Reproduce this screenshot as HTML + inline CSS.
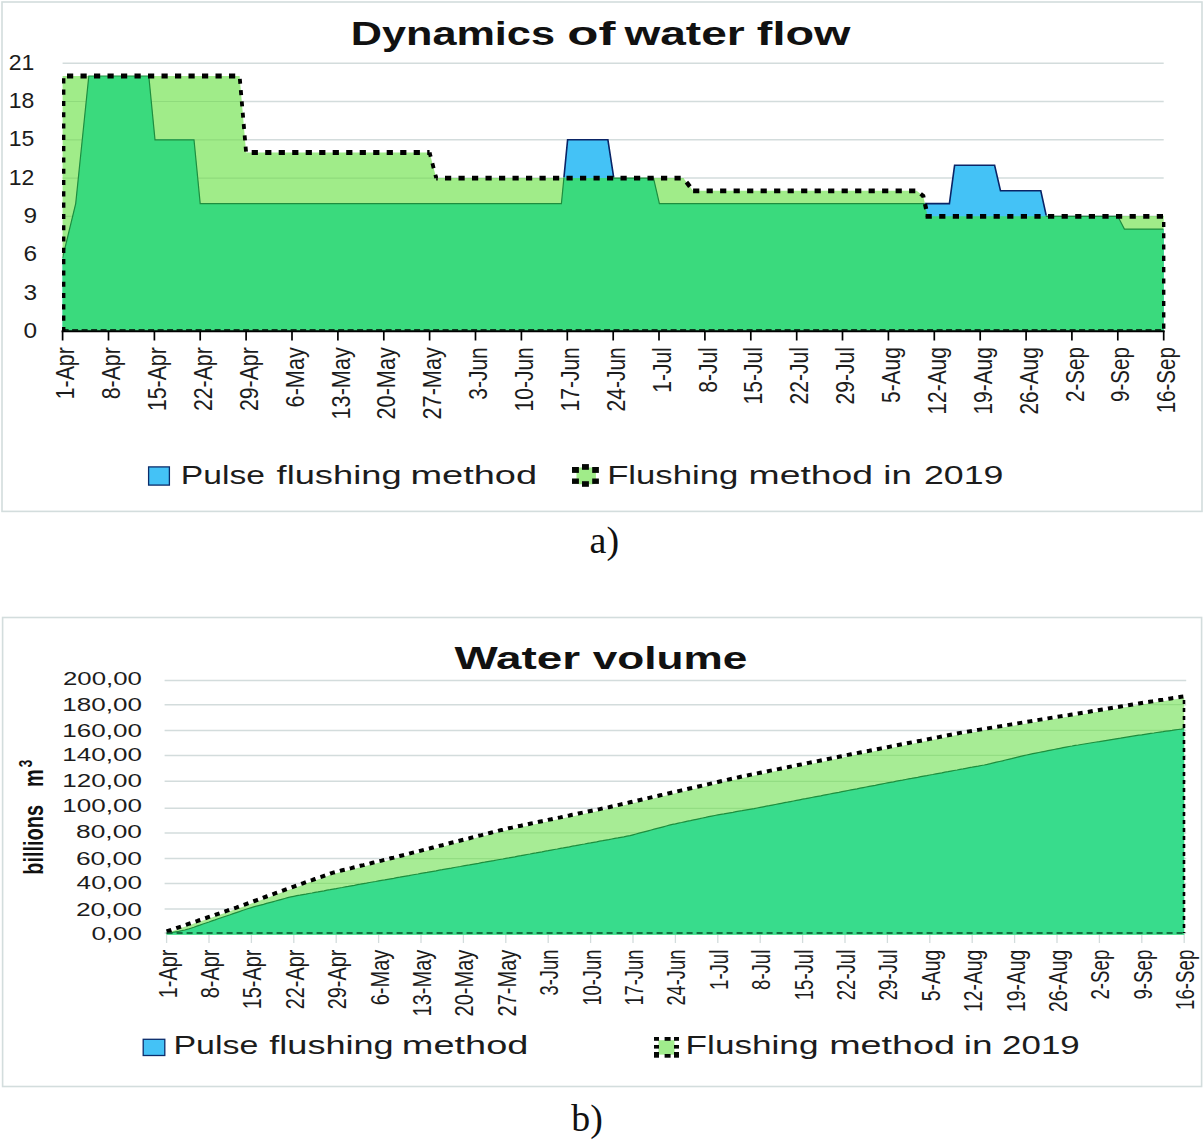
<!DOCTYPE html>
<html><head><meta charset="utf-8"><title>Water flow charts</title>
<style>html,body{margin:0;padding:0;background:#fff;}body{width:1203px;height:1142px;overflow:hidden;font-family:"Liberation Sans", sans-serif;}</style>
</head><body>
<svg width="1203" height="1142" viewBox="0 0 1203 1142" style="display:block">
<defs><clipPath id="clipLGA"><polygon points="62.6,76.0 239.6,76.0 246.1,152.5 429.6,152.5 436.2,178.1 683.3,178.1 693.1,190.8 916.6,190.8 923.2,195.9 927.8,216.3 1163.7,216.3 1163.7,331.2 62.6,331.2"/></clipPath><clipPath id="clipFlA"><polygon points="62.1,75.0 239.1,75.0 245.6,151.5 429.1,151.5 435.7,177.1 682.8,177.1 692.6,189.8 916.1,189.8 922.7,194.9 927.3,215.3 1163.2,215.3 1163.7,331.2 62.6,331.2"/></clipPath><clipPath id="clipAboveA"><polygon points="62.6,75.0 239.6,75.0 246.1,151.5 429.6,151.5 436.2,177.1 683.3,177.1 693.1,189.8 916.6,189.8 923.2,194.9 927.8,215.3 1163.7,215.3 1163.7,0.0 62.6,0.0"/></clipPath><clipPath id="clipLGB"><polygon points="166.6,933.0 169.6,932.0 172.7,930.9 175.7,929.9 178.7,928.8 181.7,927.8 184.8,926.8 187.8,925.7 190.8,924.7 193.9,923.6 196.9,922.6 199.9,921.5 202.9,920.5 206.0,919.5 209.0,918.4 212.0,917.4 215.1,916.3 218.1,915.3 221.1,914.3 224.1,913.2 227.2,912.2 230.2,911.1 233.2,910.1 236.3,909.1 239.3,908.0 242.3,906.9 245.3,905.8 248.4,904.7 251.4,903.6 254.4,902.5 257.5,901.4 260.5,900.3 263.5,899.1 266.5,898.0 269.6,896.9 272.6,895.8 275.6,894.7 278.7,893.6 281.7,892.5 284.7,891.4 287.7,890.3 290.8,889.2 293.8,888.1 296.8,887.0 299.9,885.9 302.9,884.8 305.9,883.7 308.9,882.6 312.0,881.6 315.0,880.5 318.0,879.4 321.1,878.4 324.1,877.3 327.1,876.2 330.1,875.1 333.2,874.2 336.2,873.3 339.2,872.6 342.3,871.8 345.3,871.1 348.3,870.3 351.3,869.6 354.4,868.8 357.4,868.1 360.4,867.3 363.5,866.6 366.5,865.8 369.5,865.1 372.5,864.3 375.6,863.6 378.6,862.8 381.6,862.1 384.7,861.3 387.7,860.6 390.7,859.8 393.7,859.1 396.8,858.3 399.8,857.5 402.8,856.8 405.9,856.0 408.9,855.2 411.9,854.4 414.9,853.7 418.0,852.9 421.0,852.1 424.0,851.3 427.1,850.5 430.1,849.8 433.1,849.0 436.1,848.2 439.2,847.4 442.2,846.7 445.2,845.9 448.3,845.1 451.3,844.3 454.3,843.6 457.3,842.8 460.4,842.0 463.4,841.2 466.4,840.4 469.5,839.7 472.5,838.9 475.5,838.1 478.5,837.3 481.6,836.6 484.6,835.8 487.6,835.0 490.7,834.2 493.7,833.4 496.7,832.7 499.7,831.9 502.8,831.2 505.8,830.4 508.8,829.7 511.9,829.1 514.9,828.4 517.9,827.8 520.9,827.2 524.0,826.5 527.0,825.9 530.0,825.2 533.1,824.6 536.1,824.0 539.1,823.3 542.1,822.7 545.2,822.1 548.2,821.4 551.2,820.8 554.3,820.1 557.3,819.5 560.3,818.9 563.3,818.2 566.4,817.6 569.4,817.0 572.4,816.3 575.5,815.7 578.5,815.0 581.5,814.4 584.5,813.8 587.6,813.1 590.6,812.5 593.6,811.9 596.7,811.2 599.7,810.6 602.7,809.9 605.7,809.3 608.8,808.7 611.8,808.0 614.8,807.3 617.9,806.6 620.9,805.9 623.9,805.2 626.9,804.5 630.0,803.8 633.0,803.1 636.0,802.4 639.1,801.7 642.1,801.0 645.1,800.3 648.1,799.6 651.2,798.9 654.2,798.2 657.2,797.5 660.3,796.8 663.3,796.1 666.3,795.4 669.3,794.7 672.4,794.0 675.4,793.3 678.4,792.6 681.5,791.9 684.5,791.2 687.5,790.5 690.5,789.8 693.6,789.1 696.6,788.4 699.6,787.7 702.7,787.0 705.7,786.3 708.7,785.6 711.7,784.9 714.8,784.2 717.8,783.5 720.8,782.8 723.9,782.1 726.9,781.4 729.9,780.7 732.9,780.1 736.0,779.4 739.0,778.7 742.0,778.0 745.1,777.4 748.1,776.8 751.1,776.1 754.1,775.5 757.2,774.9 760.2,774.3 763.2,773.7 766.3,773.1 769.3,772.4 772.3,771.8 775.3,771.2 778.4,770.6 781.4,770.0 784.4,769.4 787.5,768.8 790.5,768.1 793.5,767.5 796.5,766.9 799.6,766.3 802.6,765.7 805.6,765.1 808.7,764.4 811.7,763.8 814.7,763.2 817.7,762.6 820.8,762.0 823.8,761.4 826.8,760.8 829.9,760.1 832.9,759.5 835.9,758.9 838.9,758.3 842.0,757.7 845.0,757.1 848.0,756.4 851.1,755.8 854.1,755.2 857.1,754.6 860.1,754.0 863.2,753.4 866.2,752.8 869.2,752.3 872.3,751.7 875.3,751.1 878.3,750.5 881.3,749.9 884.4,749.3 887.4,748.7 890.4,748.1 893.5,747.5 896.5,746.9 899.5,746.3 902.5,745.7 905.6,745.1 908.6,744.5 911.6,743.9 914.7,743.3 917.7,742.8 920.7,742.2 923.7,741.6 926.8,741.0 929.8,740.4 932.8,739.8 935.9,739.2 938.9,738.6 941.9,738.0 944.9,737.4 948.0,736.8 951.0,736.2 954.0,735.6 957.1,735.0 960.1,734.4 963.1,733.9 966.1,733.4 969.2,732.9 972.2,732.4 975.2,731.9 978.3,731.4 981.3,730.9 984.3,730.4 987.3,729.9 990.4,729.4 993.4,728.9 996.4,728.4 999.5,727.9 1002.5,727.4 1005.5,726.9 1008.5,726.4 1011.6,725.9 1014.6,725.4 1017.6,724.9 1020.7,724.4 1023.7,723.9 1026.7,723.4 1029.7,722.9 1032.8,722.4 1035.8,721.9 1038.8,721.4 1041.9,720.9 1044.9,720.4 1047.9,719.9 1050.9,719.4 1054.0,718.9 1057.0,718.4 1060.0,717.9 1063.1,717.4 1066.1,716.9 1069.1,716.5 1072.1,716.0 1075.2,715.5 1078.2,715.0 1081.2,714.5 1084.3,714.0 1087.3,713.5 1090.3,713.0 1093.3,712.5 1096.4,712.0 1099.4,711.5 1102.4,711.0 1105.5,710.5 1108.5,710.0 1111.5,709.5 1114.5,709.0 1117.6,708.5 1120.6,708.0 1123.6,707.5 1126.7,707.0 1129.7,706.5 1132.7,706.0 1135.7,705.5 1138.8,705.0 1141.8,704.5 1144.8,704.0 1147.9,703.5 1150.9,703.1 1153.9,702.6 1156.9,702.1 1160.0,701.6 1163.0,701.2 1166.0,700.7 1169.1,700.2 1172.1,699.7 1175.1,699.3 1178.1,698.8 1181.2,698.3 1184.2,697.9 1184.2,934.8 166.6,934.8"/></clipPath></defs>
<rect x="0" y="0" width="1203" height="1142" fill="#fff"/>
<rect x="2" y="2" width="1200" height="509.4" fill="#fff" stroke="#D3DDDD" stroke-width="1.6"/>
<rect x="2.6" y="617.5" width="1199" height="469" fill="#fff" stroke="#D3DDDD" stroke-width="1.6"/>
<line x1="62.6" x2="1163.7" y1="292.9" y2="292.9" stroke="#D3DCDC" stroke-width="1.5"/>
<line x1="62.6" x2="1163.7" y1="254.6" y2="254.6" stroke="#D3DCDC" stroke-width="1.5"/>
<line x1="62.6" x2="1163.7" y1="216.3" y2="216.3" stroke="#D3DCDC" stroke-width="1.5"/>
<line x1="62.6" x2="1163.7" y1="178.1" y2="178.1" stroke="#D3DCDC" stroke-width="1.5"/>
<line x1="62.6" x2="1163.7" y1="139.8" y2="139.8" stroke="#D3DCDC" stroke-width="1.5"/>
<line x1="62.6" x2="1163.7" y1="101.5" y2="101.5" stroke="#D3DCDC" stroke-width="1.5"/>
<line x1="62.6" x2="1163.7" y1="63.2" y2="63.2" stroke="#D3DCDC" stroke-width="1.5"/>
<polygon points="62.6,76.0 239.6,76.0 246.1,152.5 429.6,152.5 436.2,178.1 683.3,178.1 693.1,190.8 916.6,190.8 923.2,195.9 927.8,216.3 1163.7,216.3 1163.7,331.2 62.6,331.2" fill="#A0EC89"/>
<line x1="62.6" x2="1163.7" y1="292.9" y2="292.9" stroke="#8FDB7C" stroke-width="1.2" clip-path="url(#clipLGA)"/>
<line x1="62.6" x2="1163.7" y1="254.6" y2="254.6" stroke="#8FDB7C" stroke-width="1.2" clip-path="url(#clipLGA)"/>
<line x1="62.6" x2="1163.7" y1="216.3" y2="216.3" stroke="#8FDB7C" stroke-width="1.2" clip-path="url(#clipLGA)"/>
<line x1="62.6" x2="1163.7" y1="178.1" y2="178.1" stroke="#8FDB7C" stroke-width="1.2" clip-path="url(#clipLGA)"/>
<line x1="62.6" x2="1163.7" y1="139.8" y2="139.8" stroke="#8FDB7C" stroke-width="1.2" clip-path="url(#clipLGA)"/>
<line x1="62.6" x2="1163.7" y1="101.5" y2="101.5" stroke="#8FDB7C" stroke-width="1.2" clip-path="url(#clipLGA)"/>
<line x1="62.6" x2="1163.7" y1="63.2" y2="63.2" stroke="#8FDB7C" stroke-width="1.2" clip-path="url(#clipLGA)"/>
<polygon points="62.6,257.8 75.7,203.6 88.8,76.0 148.8,76.0 155.0,139.8 194.0,139.8 200.2,203.6 561.4,203.6 567.6,139.8 607.9,139.8 613.8,178.1 653.5,178.1 659.4,203.6 949.4,203.6 954.6,165.3 994.6,165.3 1000.5,190.8 1040.8,190.8 1046.4,216.3 1117.8,216.3 1124.4,229.1 1163.7,229.1 1163.7,331.2 62.6,331.2" fill="#44C2F6"/>
<polygon points="62.6,257.8 65.9,244.3 69.2,230.7 72.4,217.1 75.7,203.6 79.0,171.7 82.3,139.8 85.5,107.9 88.8,76.0 92.1,76.0 95.4,76.0 98.6,76.0 101.9,76.0 105.2,76.0 108.5,76.0 111.8,76.0 115.0,76.0 118.3,76.0 121.6,76.0 124.9,76.0 128.1,76.0 131.4,76.0 134.7,76.0 138.0,76.0 141.2,76.0 144.5,76.0 147.8,76.0 148.8,76.0 151.1,99.5 154.4,133.1 155.0,139.8 157.6,139.8 160.9,139.8 164.2,139.8 167.5,139.8 170.7,139.8 174.0,139.8 177.3,139.8 180.6,139.8 183.9,139.8 187.1,139.8 190.4,139.8 193.7,139.8 194.0,139.8 197.0,170.0 200.2,203.6 203.5,203.6 206.8,203.6 210.1,203.6 213.3,203.6 216.6,203.6 219.9,203.6 223.2,203.6 226.5,203.6 229.7,203.6 233.0,203.6 236.3,203.6 239.6,203.6 242.8,203.6 246.1,203.6 249.4,203.6 252.7,203.6 255.9,203.6 259.2,203.6 262.5,203.6 265.8,203.6 269.1,203.6 272.3,203.6 275.6,203.6 278.9,203.6 282.2,203.6 285.4,203.6 288.7,203.6 292.0,203.6 295.3,203.6 298.6,203.6 301.8,203.6 305.1,203.6 308.4,203.6 311.7,203.6 314.9,203.6 318.2,203.6 321.5,203.6 324.8,203.6 328.0,203.6 331.3,203.6 334.6,203.6 337.9,203.6 341.2,203.6 344.4,203.6 347.7,203.6 351.0,203.6 354.3,203.6 357.5,203.6 360.8,203.6 364.1,203.6 367.4,203.6 370.6,203.6 373.9,203.6 377.2,203.6 380.5,203.6 383.8,203.6 387.0,203.6 390.3,203.6 393.6,203.6 396.9,203.6 400.1,203.6 403.4,203.6 406.7,203.6 410.0,203.6 413.2,203.6 416.5,203.6 419.8,203.6 423.1,203.6 426.4,203.6 429.6,203.6 432.9,203.6 436.2,203.6 439.5,203.6 442.7,203.6 446.0,203.6 449.3,203.6 452.6,203.6 455.9,203.6 459.1,203.6 462.4,203.6 465.7,203.6 469.0,203.6 472.2,203.6 475.5,203.6 478.8,203.6 482.1,203.6 485.3,203.6 488.6,203.6 491.9,203.6 495.2,203.6 498.5,203.6 501.7,203.6 505.0,203.6 508.3,203.6 511.6,203.6 514.8,203.6 518.1,203.6 521.4,203.6 524.7,203.6 527.9,203.6 531.2,203.6 534.5,203.6 537.8,203.6 541.1,203.6 544.3,203.6 547.6,203.6 550.9,203.6 554.2,203.6 557.4,203.6 560.7,203.6 561.4,203.6 564.0,178.1 567.3,178.1 567.6,178.1 570.5,178.1 573.8,178.1 577.1,178.1 580.4,178.1 583.7,178.1 586.9,178.1 590.2,178.1 593.5,178.1 596.8,178.1 600.0,178.1 603.3,178.1 606.6,178.1 607.9,178.1 609.9,178.1 613.2,178.1 613.8,178.1 616.4,178.1 619.7,178.1 623.0,178.1 626.3,178.1 629.5,178.1 632.8,178.1 636.1,178.1 639.4,178.1 642.6,178.1 645.9,178.1 649.2,178.1 652.5,178.1 653.5,178.1 655.8,188.0 659.0,202.2 659.4,203.6 662.3,203.6 665.6,203.6 668.9,203.6 672.1,203.6 675.4,203.6 678.7,203.6 682.0,203.6 683.3,203.6 685.2,203.6 688.5,203.6 691.8,203.6 693.1,203.6 695.1,203.6 698.4,203.6 701.6,203.6 704.9,203.6 708.2,203.6 711.5,203.6 714.7,203.6 718.0,203.6 721.3,203.6 724.6,203.6 727.8,203.6 731.1,203.6 734.4,203.6 737.7,203.6 741.0,203.6 744.2,203.6 747.5,203.6 750.8,203.6 754.1,203.6 757.3,203.6 760.6,203.6 763.9,203.6 767.2,203.6 770.5,203.6 773.7,203.6 777.0,203.6 780.3,203.6 783.6,203.6 786.8,203.6 790.1,203.6 793.4,203.6 796.7,203.6 799.9,203.6 803.2,203.6 806.5,203.6 809.8,203.6 813.1,203.6 816.3,203.6 819.6,203.6 822.9,203.6 826.2,203.6 829.4,203.6 832.7,203.6 836.0,203.6 839.3,203.6 842.5,203.6 845.8,203.6 849.1,203.6 852.4,203.6 855.7,203.6 858.9,203.6 862.2,203.6 865.5,203.6 868.8,203.6 872.0,203.6 875.3,203.6 878.6,203.6 881.9,203.6 885.1,203.6 888.4,203.6 891.7,203.6 895.0,203.6 898.3,203.6 901.5,203.6 904.8,203.6 908.1,203.6 911.4,203.6 914.6,203.6 916.6,203.6 917.9,203.6 921.2,203.6 923.2,203.6 924.5,203.6 927.8,216.3 931.0,216.3 934.3,216.3 937.6,216.3 940.9,216.3 944.1,216.3 947.4,216.3 949.4,216.3 950.7,216.3 954.0,216.3 954.6,216.3 957.2,216.3 960.5,216.3 963.8,216.3 967.1,216.3 970.4,216.3 973.6,216.3 976.9,216.3 980.2,216.3 983.5,216.3 986.7,216.3 990.0,216.3 993.3,216.3 994.6,216.3 996.6,216.3 999.8,216.3 1000.5,216.3 1003.1,216.3 1006.4,216.3 1009.7,216.3 1013.0,216.3 1016.2,216.3 1019.5,216.3 1022.8,216.3 1026.1,216.3 1029.3,216.3 1032.6,216.3 1035.9,216.3 1039.2,216.3 1040.8,216.3 1042.4,216.3 1045.7,216.3 1046.4,216.3 1049.0,216.3 1052.3,216.3 1055.6,216.3 1058.8,216.3 1062.1,216.3 1065.4,216.3 1068.7,216.3 1071.9,216.3 1075.2,216.3 1078.5,216.3 1081.8,216.3 1085.1,216.3 1088.3,216.3 1091.6,216.3 1094.9,216.3 1098.2,216.3 1101.4,216.3 1104.7,216.3 1108.0,216.3 1111.3,216.3 1114.5,216.3 1117.8,216.3 1121.1,222.7 1124.4,229.1 1127.7,229.1 1130.9,229.1 1134.2,229.1 1137.5,229.1 1140.8,229.1 1144.0,229.1 1147.3,229.1 1150.6,229.1 1153.9,229.1 1157.1,229.1 1160.4,229.1 1163.7,229.1 1163.7,331.2 62.6,331.2" fill="#3ADA7D"/>
<polyline points="62.6,257.8 75.7,203.6 88.8,76.0 148.8,76.0 155.0,139.8 194.0,139.8 200.2,203.6 561.4,203.6 567.6,139.8 607.9,139.8 613.8,178.1 653.5,178.1 659.4,203.6 949.4,203.6 954.6,165.3 994.6,165.3 1000.5,190.8 1040.8,190.8 1046.4,216.3 1117.8,216.3 1124.4,229.1 1163.7,229.1" fill="none" stroke="#1E8E3E" stroke-width="1.2" clip-path="url(#clipFlA)"/>
<polyline points="62.6,257.8 75.7,203.6 88.8,76.0 148.8,76.0 155.0,139.8 194.0,139.8 200.2,203.6 561.4,203.6 567.6,139.8 607.9,139.8 613.8,178.1 653.5,178.1 659.4,203.6 949.4,203.6 954.6,165.3 994.6,165.3 1000.5,190.8 1040.8,190.8 1046.4,216.3 1117.8,216.3 1124.4,229.1 1163.7,229.1" fill="none" stroke="#0A2466" stroke-width="1.6" clip-path="url(#clipAboveA)"/>
<line x1="61.6" x2="1164.7" y1="331.2" y2="331.2" stroke="#000" stroke-width="2"/>
<line x1="62.6" x2="62.6" y1="331.2" y2="340.5" stroke="#000" stroke-width="1.7"/>
<line x1="108.5" x2="108.5" y1="331.2" y2="340.5" stroke="#000" stroke-width="1.7"/>
<line x1="154.4" x2="154.4" y1="331.2" y2="340.5" stroke="#000" stroke-width="1.7"/>
<line x1="200.2" x2="200.2" y1="331.2" y2="340.5" stroke="#000" stroke-width="1.7"/>
<line x1="246.1" x2="246.1" y1="331.2" y2="340.5" stroke="#000" stroke-width="1.7"/>
<line x1="292.0" x2="292.0" y1="331.2" y2="340.5" stroke="#000" stroke-width="1.7"/>
<line x1="337.9" x2="337.9" y1="331.2" y2="340.5" stroke="#000" stroke-width="1.7"/>
<line x1="383.8" x2="383.8" y1="331.2" y2="340.5" stroke="#000" stroke-width="1.7"/>
<line x1="429.6" x2="429.6" y1="331.2" y2="340.5" stroke="#000" stroke-width="1.7"/>
<line x1="475.5" x2="475.5" y1="331.2" y2="340.5" stroke="#000" stroke-width="1.7"/>
<line x1="521.4" x2="521.4" y1="331.2" y2="340.5" stroke="#000" stroke-width="1.7"/>
<line x1="567.3" x2="567.3" y1="331.2" y2="340.5" stroke="#000" stroke-width="1.7"/>
<line x1="613.2" x2="613.2" y1="331.2" y2="340.5" stroke="#000" stroke-width="1.7"/>
<line x1="659.0" x2="659.0" y1="331.2" y2="340.5" stroke="#000" stroke-width="1.7"/>
<line x1="704.9" x2="704.9" y1="331.2" y2="340.5" stroke="#000" stroke-width="1.7"/>
<line x1="750.8" x2="750.8" y1="331.2" y2="340.5" stroke="#000" stroke-width="1.7"/>
<line x1="796.7" x2="796.7" y1="331.2" y2="340.5" stroke="#000" stroke-width="1.7"/>
<line x1="842.5" x2="842.5" y1="331.2" y2="340.5" stroke="#000" stroke-width="1.7"/>
<line x1="888.4" x2="888.4" y1="331.2" y2="340.5" stroke="#000" stroke-width="1.7"/>
<line x1="934.3" x2="934.3" y1="331.2" y2="340.5" stroke="#000" stroke-width="1.7"/>
<line x1="980.2" x2="980.2" y1="331.2" y2="340.5" stroke="#000" stroke-width="1.7"/>
<line x1="1026.1" x2="1026.1" y1="331.2" y2="340.5" stroke="#000" stroke-width="1.7"/>
<line x1="1071.9" x2="1071.9" y1="331.2" y2="340.5" stroke="#000" stroke-width="1.7"/>
<line x1="1117.8" x2="1117.8" y1="331.2" y2="340.5" stroke="#000" stroke-width="1.7"/>
<line x1="1163.7" x2="1163.7" y1="331.2" y2="340.5" stroke="#000" stroke-width="1.7"/>
<polyline points="63.7,78.3 63.7,331.2" fill="none" stroke="#000" stroke-width="3.4" stroke-dasharray="5.1 6.2" stroke-dashoffset="0.0"/>
<polyline points="1163.7,221.9 1163.7,331.2" fill="none" stroke="#000" stroke-width="3.4" stroke-dasharray="5.1 6.2" stroke-dashoffset="0.0"/>
<polyline points="67.0,76.0 239.6,76.0" fill="none" stroke="#000" stroke-width="4.8" stroke-dasharray="6.2 7.3" stroke-dashoffset="0.0"/>
<polyline points="239.6,76.0 246.1,152.5" fill="none" stroke="#000" stroke-width="3.8" stroke-dasharray="5.0 6.35" stroke-dashoffset="8.55"/>
<polyline points="246.1,152.5 429.6,152.5" fill="none" stroke="#000" stroke-width="4.8" stroke-dasharray="6.2 7.3" stroke-dashoffset="7.9"/>
<polyline points="429.6,152.5 436.2,178.1" fill="none" stroke="#000" stroke-width="3.8" stroke-dasharray="5.0 6.8" stroke-dashoffset="0.6"/>
<polyline points="436.2,178.1 683.3,178.1" fill="none" stroke="#000" stroke-width="4.8" stroke-dasharray="6.2 7.3" stroke-dashoffset="4.7"/>
<polyline points="683.3,178.1 693.1,190.8" fill="none" stroke="#000" stroke-width="4.4" stroke-dasharray="5.6 6.6" stroke-dashoffset="7.0"/>
<polyline points="693.1,190.8 916.6,190.8" fill="none" stroke="#000" stroke-width="4.8" stroke-dasharray="6.2 7.3" stroke-dashoffset="0.0"/>
<polyline points="916.6,190.8 923.2,195.9 927.8,216.3" fill="none" stroke="#000" stroke-width="4.2" stroke-dasharray="5 6.6" stroke-dashoffset="6.5"/>
<polyline points="925.6,216.3 1163.7,216.3" fill="none" stroke="#000" stroke-width="4.8" stroke-dasharray="6.2 7.4" stroke-dashoffset="0.0"/>
<line x1="62.6" x2="1163.7" y1="329.9" y2="329.9" stroke="#000" stroke-width="1.2" stroke-dasharray="6 3.5"/>
<text x="23.6" y="337.8" font-family='"Liberation Sans", sans-serif' font-size="22" fill="#1c1c1c" textLength="13.6" lengthAdjust="spacingAndGlyphs">0</text>
<text x="23.6" y="299.5" font-family='"Liberation Sans", sans-serif' font-size="22" fill="#1c1c1c" textLength="13.6" lengthAdjust="spacingAndGlyphs">3</text>
<text x="23.6" y="261.2" font-family='"Liberation Sans", sans-serif' font-size="22" fill="#1c1c1c" textLength="13.6" lengthAdjust="spacingAndGlyphs">6</text>
<text x="23.6" y="222.9" font-family='"Liberation Sans", sans-serif' font-size="22" fill="#1c1c1c" textLength="13.6" lengthAdjust="spacingAndGlyphs">9</text>
<text x="8.7" y="184.7" font-family='"Liberation Sans", sans-serif' font-size="22" fill="#1c1c1c" textLength="25.6" lengthAdjust="spacingAndGlyphs">12</text>
<text x="8.7" y="146.4" font-family='"Liberation Sans", sans-serif' font-size="22" fill="#1c1c1c" textLength="25.6" lengthAdjust="spacingAndGlyphs">15</text>
<text x="8.7" y="108.1" font-family='"Liberation Sans", sans-serif' font-size="22" fill="#1c1c1c" textLength="25.6" lengthAdjust="spacingAndGlyphs">18</text>
<text x="8.7" y="69.8" font-family='"Liberation Sans", sans-serif' font-size="22" fill="#1c1c1c" textLength="25.6" lengthAdjust="spacingAndGlyphs">21</text>
<text transform="translate(74.2,347.2) rotate(-90) scale(0.835,1)" text-anchor="end" font-family='"Liberation Sans", sans-serif' font-size="25.5" fill="#1c1c1c">1-Apr</text>
<text transform="translate(120.1,347.2) rotate(-90) scale(0.835,1)" text-anchor="end" font-family='"Liberation Sans", sans-serif' font-size="25.5" fill="#1c1c1c">8-Apr</text>
<text transform="translate(166.0,347.2) rotate(-90) scale(0.835,1)" text-anchor="end" font-family='"Liberation Sans", sans-serif' font-size="25.5" fill="#1c1c1c">15-Apr</text>
<text transform="translate(211.8,347.2) rotate(-90) scale(0.835,1)" text-anchor="end" font-family='"Liberation Sans", sans-serif' font-size="25.5" fill="#1c1c1c">22-Apr</text>
<text transform="translate(257.7,347.2) rotate(-90) scale(0.835,1)" text-anchor="end" font-family='"Liberation Sans", sans-serif' font-size="25.5" fill="#1c1c1c">29-Apr</text>
<text transform="translate(303.6,347.2) rotate(-90) scale(0.85,1)" text-anchor="end" font-family='"Liberation Sans", sans-serif' font-size="25.5" fill="#1c1c1c">6-May</text>
<text transform="translate(349.5,347.2) rotate(-90) scale(0.85,1)" text-anchor="end" font-family='"Liberation Sans", sans-serif' font-size="25.5" fill="#1c1c1c">13-May</text>
<text transform="translate(395.4,347.2) rotate(-90) scale(0.85,1)" text-anchor="end" font-family='"Liberation Sans", sans-serif' font-size="25.5" fill="#1c1c1c">20-May</text>
<text transform="translate(441.2,347.2) rotate(-90) scale(0.85,1)" text-anchor="end" font-family='"Liberation Sans", sans-serif' font-size="25.5" fill="#1c1c1c">27-May</text>
<text transform="translate(487.1,347.2) rotate(-90) scale(0.825,1)" text-anchor="end" font-family='"Liberation Sans", sans-serif' font-size="25.5" fill="#1c1c1c">3-Jun</text>
<text transform="translate(533.0,347.2) rotate(-90) scale(0.825,1)" text-anchor="end" font-family='"Liberation Sans", sans-serif' font-size="25.5" fill="#1c1c1c">10-Jun</text>
<text transform="translate(578.9,347.2) rotate(-90) scale(0.825,1)" text-anchor="end" font-family='"Liberation Sans", sans-serif' font-size="25.5" fill="#1c1c1c">17-Jun</text>
<text transform="translate(624.8,347.2) rotate(-90) scale(0.825,1)" text-anchor="end" font-family='"Liberation Sans", sans-serif' font-size="25.5" fill="#1c1c1c">24-Jun</text>
<text transform="translate(670.6,347.2) rotate(-90) scale(0.825,1)" text-anchor="end" font-family='"Liberation Sans", sans-serif' font-size="25.5" fill="#1c1c1c">1-Jul</text>
<text transform="translate(716.5,347.2) rotate(-90) scale(0.825,1)" text-anchor="end" font-family='"Liberation Sans", sans-serif' font-size="25.5" fill="#1c1c1c">8-Jul</text>
<text transform="translate(762.4,347.2) rotate(-90) scale(0.825,1)" text-anchor="end" font-family='"Liberation Sans", sans-serif' font-size="25.5" fill="#1c1c1c">15-Jul</text>
<text transform="translate(808.3,347.2) rotate(-90) scale(0.825,1)" text-anchor="end" font-family='"Liberation Sans", sans-serif' font-size="25.5" fill="#1c1c1c">22-Jul</text>
<text transform="translate(854.1,347.2) rotate(-90) scale(0.825,1)" text-anchor="end" font-family='"Liberation Sans", sans-serif' font-size="25.5" fill="#1c1c1c">29-Jul</text>
<text transform="translate(900.0,347.2) rotate(-90) scale(0.82,1)" text-anchor="end" font-family='"Liberation Sans", sans-serif' font-size="25.5" fill="#1c1c1c">5-Aug</text>
<text transform="translate(945.9,347.2) rotate(-90) scale(0.82,1)" text-anchor="end" font-family='"Liberation Sans", sans-serif' font-size="25.5" fill="#1c1c1c">12-Aug</text>
<text transform="translate(991.8,347.2) rotate(-90) scale(0.82,1)" text-anchor="end" font-family='"Liberation Sans", sans-serif' font-size="25.5" fill="#1c1c1c">19-Aug</text>
<text transform="translate(1037.7,347.2) rotate(-90) scale(0.82,1)" text-anchor="end" font-family='"Liberation Sans", sans-serif' font-size="25.5" fill="#1c1c1c">26-Aug</text>
<text transform="translate(1083.5,347.2) rotate(-90) scale(0.805,1)" text-anchor="end" font-family='"Liberation Sans", sans-serif' font-size="25.5" fill="#1c1c1c">2-Sep</text>
<text transform="translate(1129.4,347.2) rotate(-90) scale(0.805,1)" text-anchor="end" font-family='"Liberation Sans", sans-serif' font-size="25.5" fill="#1c1c1c">9-Sep</text>
<text transform="translate(1175.3,347.2) rotate(-90) scale(0.805,1)" text-anchor="end" font-family='"Liberation Sans", sans-serif' font-size="25.5" fill="#1c1c1c">16-Sep</text>
<text transform="translate(350.78,45) scale(1.2904,1)" font-family='"Liberation Sans", sans-serif' font-weight="bold" font-size="33.5" fill="#111">Dynamics</text>
<text transform="translate(567.36,45) scale(1.5239,1)" font-family='"Liberation Sans", sans-serif' font-weight="bold" font-size="33.5" fill="#111">of</text>
<text transform="translate(624.42,45) scale(1.3754,1)" font-family='"Liberation Sans", sans-serif' font-weight="bold" font-size="33.5" fill="#111">water</text>
<text transform="translate(756.78,45) scale(1.3985,1)" font-family='"Liberation Sans", sans-serif' font-weight="bold" font-size="33.5" fill="#111">flow</text>
<rect x="148.6" y="466.9" width="20.8" height="18.2" fill="#44C2F6" stroke="#0B2C6B" stroke-width="1.3"/>
<text transform="translate(180.83,483.6) scale(1.2923,1)" font-family='"Liberation Sans", sans-serif' font-size="26" fill="#1c1c1c">Pulse</text>
<text transform="translate(276.56,483.6) scale(1.3957,1)" font-family='"Liberation Sans", sans-serif' font-size="26" fill="#1c1c1c">flushing</text>
<text transform="translate(410.44,483.6) scale(1.4605,1)" font-family='"Liberation Sans", sans-serif' font-size="26" fill="#1c1c1c">method</text>
<rect x="576.5" y="467.6" width="19.4" height="16.6" rx="3" fill="#A0EC89"/>
<rect x="572.0" y="467.0" width="6.9" height="5.9" fill="#050805"/>
<rect x="582.0" y="464.1" width="6.9" height="5.7" fill="#050805"/>
<rect x="592.2" y="467.0" width="6.7" height="5.9" fill="#050805"/>
<rect x="572.0" y="478.5" width="6.9" height="5.4" fill="#050805"/>
<rect x="582.0" y="481.2" width="6.9" height="5.6" fill="#050805"/>
<rect x="592.2" y="478.5" width="6.7" height="5.4" fill="#050805"/>
<text transform="translate(607.14,483.6) scale(1.3353,1)" font-family='"Liberation Sans", sans-serif' font-size="26" fill="#1c1c1c">Flushing</text>
<text transform="translate(748.58,483.6) scale(1.4365,1)" font-family='"Liberation Sans", sans-serif' font-size="26" fill="#1c1c1c">method</text>
<text transform="translate(883.32,483.6) scale(1.4132,1)" font-family='"Liberation Sans", sans-serif' font-size="26" fill="#1c1c1c">in</text>
<text transform="translate(923.91,483.6) scale(1.3758,1)" font-family='"Liberation Sans", sans-serif' font-size="26" fill="#1c1c1c">2019</text>
<text transform="translate(589.57,553.3) scale(1.0133,1)" font-family='"Liberation Serif", serif' font-size="37.5" fill="#111">a)</text>
<line x1="164.6" x2="1186.2" y1="933.0" y2="933.0" stroke="#D3DCDC" stroke-width="1.5"/>
<line x1="164.6" x2="1186.2" y1="908.9" y2="908.9" stroke="#D3DCDC" stroke-width="1.5"/>
<line x1="164.6" x2="1186.2" y1="883.4" y2="883.4" stroke="#D3DCDC" stroke-width="1.5"/>
<line x1="164.6" x2="1186.2" y1="858.6" y2="858.6" stroke="#D3DCDC" stroke-width="1.5"/>
<line x1="164.6" x2="1186.2" y1="832.9" y2="832.9" stroke="#D3DCDC" stroke-width="1.5"/>
<line x1="164.6" x2="1186.2" y1="808.3" y2="808.3" stroke="#D3DCDC" stroke-width="1.5"/>
<line x1="164.6" x2="1186.2" y1="781.3" y2="781.3" stroke="#D3DCDC" stroke-width="1.5"/>
<line x1="164.6" x2="1186.2" y1="755.4" y2="755.4" stroke="#D3DCDC" stroke-width="1.5"/>
<line x1="164.6" x2="1186.2" y1="730.4" y2="730.4" stroke="#D3DCDC" stroke-width="1.5"/>
<line x1="164.6" x2="1186.2" y1="704.7" y2="704.7" stroke="#D3DCDC" stroke-width="1.5"/>
<line x1="164.6" x2="1186.2" y1="680.4" y2="680.4" stroke="#D3DCDC" stroke-width="1.5"/>
<line x1="166.6" x2="166.6" y1="933.0" y2="943.0" stroke="#D3DCDC" stroke-width="1.3"/>
<line x1="209.0" x2="209.0" y1="933.0" y2="943.0" stroke="#D3DCDC" stroke-width="1.3"/>
<line x1="251.4" x2="251.4" y1="933.0" y2="943.0" stroke="#D3DCDC" stroke-width="1.3"/>
<line x1="293.8" x2="293.8" y1="933.0" y2="943.0" stroke="#D3DCDC" stroke-width="1.3"/>
<line x1="336.2" x2="336.2" y1="933.0" y2="943.0" stroke="#D3DCDC" stroke-width="1.3"/>
<line x1="378.6" x2="378.6" y1="933.0" y2="943.0" stroke="#D3DCDC" stroke-width="1.3"/>
<line x1="421.0" x2="421.0" y1="933.0" y2="943.0" stroke="#D3DCDC" stroke-width="1.3"/>
<line x1="463.4" x2="463.4" y1="933.0" y2="943.0" stroke="#D3DCDC" stroke-width="1.3"/>
<line x1="505.8" x2="505.8" y1="933.0" y2="943.0" stroke="#D3DCDC" stroke-width="1.3"/>
<line x1="548.2" x2="548.2" y1="933.0" y2="943.0" stroke="#D3DCDC" stroke-width="1.3"/>
<line x1="590.6" x2="590.6" y1="933.0" y2="943.0" stroke="#D3DCDC" stroke-width="1.3"/>
<line x1="633.0" x2="633.0" y1="933.0" y2="943.0" stroke="#D3DCDC" stroke-width="1.3"/>
<line x1="675.4" x2="675.4" y1="933.0" y2="943.0" stroke="#D3DCDC" stroke-width="1.3"/>
<line x1="717.8" x2="717.8" y1="933.0" y2="943.0" stroke="#D3DCDC" stroke-width="1.3"/>
<line x1="760.2" x2="760.2" y1="933.0" y2="943.0" stroke="#D3DCDC" stroke-width="1.3"/>
<line x1="802.6" x2="802.6" y1="933.0" y2="943.0" stroke="#D3DCDC" stroke-width="1.3"/>
<line x1="845.0" x2="845.0" y1="933.0" y2="943.0" stroke="#D3DCDC" stroke-width="1.3"/>
<line x1="887.4" x2="887.4" y1="933.0" y2="943.0" stroke="#D3DCDC" stroke-width="1.3"/>
<line x1="929.8" x2="929.8" y1="933.0" y2="943.0" stroke="#D3DCDC" stroke-width="1.3"/>
<line x1="972.2" x2="972.2" y1="933.0" y2="943.0" stroke="#D3DCDC" stroke-width="1.3"/>
<line x1="1014.6" x2="1014.6" y1="933.0" y2="943.0" stroke="#D3DCDC" stroke-width="1.3"/>
<line x1="1057.0" x2="1057.0" y1="933.0" y2="943.0" stroke="#D3DCDC" stroke-width="1.3"/>
<line x1="1099.4" x2="1099.4" y1="933.0" y2="943.0" stroke="#D3DCDC" stroke-width="1.3"/>
<line x1="1141.8" x2="1141.8" y1="933.0" y2="943.0" stroke="#D3DCDC" stroke-width="1.3"/>
<line x1="1184.2" x2="1184.2" y1="933.0" y2="943.0" stroke="#D3DCDC" stroke-width="1.3"/>
<polygon points="166.6,933.0 169.6,932.0 172.7,930.9 175.7,929.9 178.7,928.8 181.7,927.8 184.8,926.8 187.8,925.7 190.8,924.7 193.9,923.6 196.9,922.6 199.9,921.5 202.9,920.5 206.0,919.5 209.0,918.4 212.0,917.4 215.1,916.3 218.1,915.3 221.1,914.3 224.1,913.2 227.2,912.2 230.2,911.1 233.2,910.1 236.3,909.1 239.3,908.0 242.3,906.9 245.3,905.8 248.4,904.7 251.4,903.6 254.4,902.5 257.5,901.4 260.5,900.3 263.5,899.1 266.5,898.0 269.6,896.9 272.6,895.8 275.6,894.7 278.7,893.6 281.7,892.5 284.7,891.4 287.7,890.3 290.8,889.2 293.8,888.1 296.8,887.0 299.9,885.9 302.9,884.8 305.9,883.7 308.9,882.6 312.0,881.6 315.0,880.5 318.0,879.4 321.1,878.4 324.1,877.3 327.1,876.2 330.1,875.1 333.2,874.2 336.2,873.3 339.2,872.6 342.3,871.8 345.3,871.1 348.3,870.3 351.3,869.6 354.4,868.8 357.4,868.1 360.4,867.3 363.5,866.6 366.5,865.8 369.5,865.1 372.5,864.3 375.6,863.6 378.6,862.8 381.6,862.1 384.7,861.3 387.7,860.6 390.7,859.8 393.7,859.1 396.8,858.3 399.8,857.5 402.8,856.8 405.9,856.0 408.9,855.2 411.9,854.4 414.9,853.7 418.0,852.9 421.0,852.1 424.0,851.3 427.1,850.5 430.1,849.8 433.1,849.0 436.1,848.2 439.2,847.4 442.2,846.7 445.2,845.9 448.3,845.1 451.3,844.3 454.3,843.6 457.3,842.8 460.4,842.0 463.4,841.2 466.4,840.4 469.5,839.7 472.5,838.9 475.5,838.1 478.5,837.3 481.6,836.6 484.6,835.8 487.6,835.0 490.7,834.2 493.7,833.4 496.7,832.7 499.7,831.9 502.8,831.2 505.8,830.4 508.8,829.7 511.9,829.1 514.9,828.4 517.9,827.8 520.9,827.2 524.0,826.5 527.0,825.9 530.0,825.2 533.1,824.6 536.1,824.0 539.1,823.3 542.1,822.7 545.2,822.1 548.2,821.4 551.2,820.8 554.3,820.1 557.3,819.5 560.3,818.9 563.3,818.2 566.4,817.6 569.4,817.0 572.4,816.3 575.5,815.7 578.5,815.0 581.5,814.4 584.5,813.8 587.6,813.1 590.6,812.5 593.6,811.9 596.7,811.2 599.7,810.6 602.7,809.9 605.7,809.3 608.8,808.7 611.8,808.0 614.8,807.3 617.9,806.6 620.9,805.9 623.9,805.2 626.9,804.5 630.0,803.8 633.0,803.1 636.0,802.4 639.1,801.7 642.1,801.0 645.1,800.3 648.1,799.6 651.2,798.9 654.2,798.2 657.2,797.5 660.3,796.8 663.3,796.1 666.3,795.4 669.3,794.7 672.4,794.0 675.4,793.3 678.4,792.6 681.5,791.9 684.5,791.2 687.5,790.5 690.5,789.8 693.6,789.1 696.6,788.4 699.6,787.7 702.7,787.0 705.7,786.3 708.7,785.6 711.7,784.9 714.8,784.2 717.8,783.5 720.8,782.8 723.9,782.1 726.9,781.4 729.9,780.7 732.9,780.1 736.0,779.4 739.0,778.7 742.0,778.0 745.1,777.4 748.1,776.8 751.1,776.1 754.1,775.5 757.2,774.9 760.2,774.3 763.2,773.7 766.3,773.1 769.3,772.4 772.3,771.8 775.3,771.2 778.4,770.6 781.4,770.0 784.4,769.4 787.5,768.8 790.5,768.1 793.5,767.5 796.5,766.9 799.6,766.3 802.6,765.7 805.6,765.1 808.7,764.4 811.7,763.8 814.7,763.2 817.7,762.6 820.8,762.0 823.8,761.4 826.8,760.8 829.9,760.1 832.9,759.5 835.9,758.9 838.9,758.3 842.0,757.7 845.0,757.1 848.0,756.4 851.1,755.8 854.1,755.2 857.1,754.6 860.1,754.0 863.2,753.4 866.2,752.8 869.2,752.3 872.3,751.7 875.3,751.1 878.3,750.5 881.3,749.9 884.4,749.3 887.4,748.7 890.4,748.1 893.5,747.5 896.5,746.9 899.5,746.3 902.5,745.7 905.6,745.1 908.6,744.5 911.6,743.9 914.7,743.3 917.7,742.8 920.7,742.2 923.7,741.6 926.8,741.0 929.8,740.4 932.8,739.8 935.9,739.2 938.9,738.6 941.9,738.0 944.9,737.4 948.0,736.8 951.0,736.2 954.0,735.6 957.1,735.0 960.1,734.4 963.1,733.9 966.1,733.4 969.2,732.9 972.2,732.4 975.2,731.9 978.3,731.4 981.3,730.9 984.3,730.4 987.3,729.9 990.4,729.4 993.4,728.9 996.4,728.4 999.5,727.9 1002.5,727.4 1005.5,726.9 1008.5,726.4 1011.6,725.9 1014.6,725.4 1017.6,724.9 1020.7,724.4 1023.7,723.9 1026.7,723.4 1029.7,722.9 1032.8,722.4 1035.8,721.9 1038.8,721.4 1041.9,720.9 1044.9,720.4 1047.9,719.9 1050.9,719.4 1054.0,718.9 1057.0,718.4 1060.0,717.9 1063.1,717.4 1066.1,716.9 1069.1,716.5 1072.1,716.0 1075.2,715.5 1078.2,715.0 1081.2,714.5 1084.3,714.0 1087.3,713.5 1090.3,713.0 1093.3,712.5 1096.4,712.0 1099.4,711.5 1102.4,711.0 1105.5,710.5 1108.5,710.0 1111.5,709.5 1114.5,709.0 1117.6,708.5 1120.6,708.0 1123.6,707.5 1126.7,707.0 1129.7,706.5 1132.7,706.0 1135.7,705.5 1138.8,705.0 1141.8,704.5 1144.8,704.0 1147.9,703.5 1150.9,703.1 1153.9,702.6 1156.9,702.1 1160.0,701.6 1163.0,701.2 1166.0,700.7 1169.1,700.2 1172.1,699.7 1175.1,699.3 1178.1,698.8 1181.2,698.3 1184.2,697.9 1184.2,934.8 166.6,934.8" fill="#A7EC95"/>
<line x1="166.6" x2="1184.2" y1="908.9" y2="908.9" stroke="#93DD83" stroke-width="1.2" clip-path="url(#clipLGB)"/>
<line x1="166.6" x2="1184.2" y1="883.4" y2="883.4" stroke="#93DD83" stroke-width="1.2" clip-path="url(#clipLGB)"/>
<line x1="166.6" x2="1184.2" y1="858.6" y2="858.6" stroke="#93DD83" stroke-width="1.2" clip-path="url(#clipLGB)"/>
<line x1="166.6" x2="1184.2" y1="832.9" y2="832.9" stroke="#93DD83" stroke-width="1.2" clip-path="url(#clipLGB)"/>
<line x1="166.6" x2="1184.2" y1="808.3" y2="808.3" stroke="#93DD83" stroke-width="1.2" clip-path="url(#clipLGB)"/>
<line x1="166.6" x2="1184.2" y1="781.3" y2="781.3" stroke="#93DD83" stroke-width="1.2" clip-path="url(#clipLGB)"/>
<line x1="166.6" x2="1184.2" y1="755.4" y2="755.4" stroke="#93DD83" stroke-width="1.2" clip-path="url(#clipLGB)"/>
<line x1="166.6" x2="1184.2" y1="730.4" y2="730.4" stroke="#93DD83" stroke-width="1.2" clip-path="url(#clipLGB)"/>
<line x1="166.6" x2="1184.2" y1="704.7" y2="704.7" stroke="#93DD83" stroke-width="1.2" clip-path="url(#clipLGB)"/>
<line x1="166.6" x2="1184.2" y1="680.4" y2="680.4" stroke="#93DD83" stroke-width="1.2" clip-path="url(#clipLGB)"/>
<polygon points="166.6,933.0 169.6,932.7 172.7,932.3 175.7,931.8 178.7,931.3 181.7,930.7 184.8,930.0 187.8,929.2 190.8,928.2 193.9,927.2 196.9,926.1 199.9,925.1 202.9,924.0 206.0,923.0 209.0,922.0 212.0,920.9 215.1,919.9 218.1,918.8 221.1,917.8 224.1,916.8 227.2,915.7 230.2,914.7 233.2,913.6 236.3,912.6 239.3,911.6 242.3,910.5 245.3,909.5 248.4,908.5 251.4,907.6 254.4,906.7 257.5,905.9 260.5,905.1 263.5,904.3 266.5,903.4 269.6,902.6 272.6,901.8 275.6,901.0 278.7,900.1 281.7,899.3 284.7,898.5 287.7,897.7 290.8,896.9 293.8,896.3 296.8,895.7 299.9,895.2 302.9,894.6 305.9,894.1 308.9,893.5 312.0,893.0 315.0,892.4 318.0,891.9 321.1,891.3 324.1,890.8 327.1,890.2 330.1,889.7 333.2,889.1 336.2,888.6 339.2,888.0 342.3,887.5 345.3,886.9 348.3,886.4 351.3,885.8 354.4,885.3 357.4,884.7 360.4,884.2 363.5,883.6 366.5,883.1 369.5,882.5 372.5,882.0 375.6,881.5 378.6,880.9 381.6,880.4 384.7,879.9 387.7,879.3 390.7,878.8 393.7,878.3 396.8,877.7 399.8,877.2 402.8,876.6 405.9,876.1 408.9,875.6 411.9,875.0 414.9,874.5 418.0,874.0 421.0,873.4 424.0,872.9 427.1,872.4 430.1,871.8 433.1,871.3 436.1,870.8 439.2,870.2 442.2,869.7 445.2,869.1 448.3,868.6 451.3,868.1 454.3,867.5 457.3,867.0 460.4,866.5 463.4,865.9 466.4,865.4 469.5,864.9 472.5,864.3 475.5,863.8 478.5,863.3 481.6,862.7 484.6,862.2 487.6,861.6 490.7,861.1 493.7,860.6 496.7,860.0 499.7,859.5 502.8,859.0 505.8,858.4 508.8,857.9 511.9,857.3 514.9,856.8 517.9,856.2 520.9,855.7 524.0,855.1 527.0,854.5 530.0,854.0 533.1,853.4 536.1,852.9 539.1,852.3 542.1,851.8 545.2,851.2 548.2,850.7 551.2,850.1 554.3,849.5 557.3,849.0 560.3,848.4 563.3,847.9 566.4,847.3 569.4,846.8 572.4,846.2 575.5,845.7 578.5,845.1 581.5,844.5 584.5,844.0 587.6,843.4 590.6,842.9 593.6,842.3 596.7,841.8 599.7,841.2 602.7,840.7 605.7,840.1 608.8,839.6 611.8,839.0 614.8,838.4 617.9,837.9 620.9,837.3 623.9,836.8 626.9,836.2 630.0,835.6 633.0,834.8 636.0,834.0 639.1,833.2 642.1,832.4 645.1,831.6 648.1,830.8 651.2,830.0 654.2,829.2 657.2,828.4 660.3,827.6 663.3,826.8 666.3,826.0 669.3,825.2 672.4,824.4 675.4,823.8 678.4,823.1 681.5,822.5 684.5,821.8 687.5,821.2 690.5,820.6 693.6,819.9 696.6,819.3 699.6,818.7 702.7,818.0 705.7,817.4 708.7,816.7 711.7,816.1 714.8,815.5 717.8,814.9 720.8,814.4 723.9,813.9 726.9,813.3 729.9,812.8 732.9,812.3 736.0,811.7 739.0,811.2 742.0,810.7 745.1,810.1 748.1,809.6 751.1,809.1 754.1,808.6 757.2,808.0 760.2,807.4 763.2,806.8 766.3,806.2 769.3,805.7 772.3,805.1 775.3,804.5 778.4,803.9 781.4,803.3 784.4,802.7 787.5,802.2 790.5,801.6 793.5,801.0 796.5,800.4 799.6,799.8 802.6,799.2 805.6,798.7 808.7,798.1 811.7,797.5 814.7,796.9 817.7,796.3 820.8,795.8 823.8,795.2 826.8,794.6 829.9,794.0 832.9,793.4 835.9,792.8 838.9,792.3 842.0,791.7 845.0,791.1 848.0,790.5 851.1,789.9 854.1,789.3 857.1,788.8 860.1,788.2 863.2,787.6 866.2,787.0 869.2,786.4 872.3,785.8 875.3,785.3 878.3,784.7 881.3,784.1 884.4,783.5 887.4,782.9 890.4,782.3 893.5,781.8 896.5,781.2 899.5,780.6 902.5,780.1 905.6,779.5 908.6,778.9 911.6,778.4 914.7,777.8 917.7,777.3 920.7,776.7 923.7,776.1 926.8,775.6 929.8,775.0 932.8,774.5 935.9,773.9 938.9,773.3 941.9,772.8 944.9,772.2 948.0,771.7 951.0,771.1 954.0,770.5 957.1,770.0 960.1,769.4 963.1,768.9 966.1,768.3 969.2,767.7 972.2,767.2 975.2,766.6 978.3,766.1 981.3,765.5 984.3,765.0 987.3,764.4 990.4,763.7 993.4,762.9 996.4,762.2 999.5,761.5 1002.5,760.8 1005.5,760.0 1008.5,759.3 1011.6,758.6 1014.6,757.8 1017.6,757.1 1020.7,756.4 1023.7,755.7 1026.7,755.0 1029.7,754.3 1032.8,753.7 1035.8,753.1 1038.8,752.5 1041.9,751.9 1044.9,751.3 1047.9,750.7 1050.9,750.1 1054.0,749.5 1057.0,748.9 1060.0,748.3 1063.1,747.7 1066.1,747.1 1069.1,746.5 1072.1,746.0 1075.2,745.4 1078.2,745.0 1081.2,744.5 1084.3,744.0 1087.3,743.5 1090.3,743.0 1093.3,742.5 1096.4,742.0 1099.4,741.6 1102.4,741.1 1105.5,740.6 1108.5,740.1 1111.5,739.6 1114.5,739.1 1117.6,738.6 1120.6,738.2 1123.6,737.7 1126.7,737.2 1129.7,736.7 1132.7,736.2 1135.7,735.7 1138.8,735.2 1141.8,734.8 1144.8,734.3 1147.9,733.8 1150.9,733.4 1153.9,733.0 1156.9,732.5 1160.0,732.1 1163.0,731.7 1166.0,731.2 1169.1,730.8 1172.1,730.4 1175.1,729.9 1178.1,729.5 1181.2,729.1 1184.2,728.6 1184.2,934.8 166.6,934.8" fill="#38DC8C"/>
<polyline points="166.6,933.0 169.6,932.7 172.7,932.3 175.7,931.8 178.7,931.3 181.7,930.7 184.8,930.0 187.8,929.2 190.8,928.2 193.9,927.2 196.9,926.1 199.9,925.1 202.9,924.0 206.0,923.0 209.0,922.0 212.0,920.9 215.1,919.9 218.1,918.8 221.1,917.8 224.1,916.8 227.2,915.7 230.2,914.7 233.2,913.6 236.3,912.6 239.3,911.6 242.3,910.5 245.3,909.5 248.4,908.5 251.4,907.6 254.4,906.7 257.5,905.9 260.5,905.1 263.5,904.3 266.5,903.4 269.6,902.6 272.6,901.8 275.6,901.0 278.7,900.1 281.7,899.3 284.7,898.5 287.7,897.7 290.8,896.9 293.8,896.3 296.8,895.7 299.9,895.2 302.9,894.6 305.9,894.1 308.9,893.5 312.0,893.0 315.0,892.4 318.0,891.9 321.1,891.3 324.1,890.8 327.1,890.2 330.1,889.7 333.2,889.1 336.2,888.6 339.2,888.0 342.3,887.5 345.3,886.9 348.3,886.4 351.3,885.8 354.4,885.3 357.4,884.7 360.4,884.2 363.5,883.6 366.5,883.1 369.5,882.5 372.5,882.0 375.6,881.5 378.6,880.9 381.6,880.4 384.7,879.9 387.7,879.3 390.7,878.8 393.7,878.3 396.8,877.7 399.8,877.2 402.8,876.6 405.9,876.1 408.9,875.6 411.9,875.0 414.9,874.5 418.0,874.0 421.0,873.4 424.0,872.9 427.1,872.4 430.1,871.8 433.1,871.3 436.1,870.8 439.2,870.2 442.2,869.7 445.2,869.1 448.3,868.6 451.3,868.1 454.3,867.5 457.3,867.0 460.4,866.5 463.4,865.9 466.4,865.4 469.5,864.9 472.5,864.3 475.5,863.8 478.5,863.3 481.6,862.7 484.6,862.2 487.6,861.6 490.7,861.1 493.7,860.6 496.7,860.0 499.7,859.5 502.8,859.0 505.8,858.4 508.8,857.9 511.9,857.3 514.9,856.8 517.9,856.2 520.9,855.7 524.0,855.1 527.0,854.5 530.0,854.0 533.1,853.4 536.1,852.9 539.1,852.3 542.1,851.8 545.2,851.2 548.2,850.7 551.2,850.1 554.3,849.5 557.3,849.0 560.3,848.4 563.3,847.9 566.4,847.3 569.4,846.8 572.4,846.2 575.5,845.7 578.5,845.1 581.5,844.5 584.5,844.0 587.6,843.4 590.6,842.9 593.6,842.3 596.7,841.8 599.7,841.2 602.7,840.7 605.7,840.1 608.8,839.6 611.8,839.0 614.8,838.4 617.9,837.9 620.9,837.3 623.9,836.8 626.9,836.2 630.0,835.6 633.0,834.8 636.0,834.0 639.1,833.2 642.1,832.4 645.1,831.6 648.1,830.8 651.2,830.0 654.2,829.2 657.2,828.4 660.3,827.6 663.3,826.8 666.3,826.0 669.3,825.2 672.4,824.4 675.4,823.8 678.4,823.1 681.5,822.5 684.5,821.8 687.5,821.2 690.5,820.6 693.6,819.9 696.6,819.3 699.6,818.7 702.7,818.0 705.7,817.4 708.7,816.7 711.7,816.1 714.8,815.5 717.8,814.9 720.8,814.4 723.9,813.9 726.9,813.3 729.9,812.8 732.9,812.3 736.0,811.7 739.0,811.2 742.0,810.7 745.1,810.1 748.1,809.6 751.1,809.1 754.1,808.6 757.2,808.0 760.2,807.4 763.2,806.8 766.3,806.2 769.3,805.7 772.3,805.1 775.3,804.5 778.4,803.9 781.4,803.3 784.4,802.7 787.5,802.2 790.5,801.6 793.5,801.0 796.5,800.4 799.6,799.8 802.6,799.2 805.6,798.7 808.7,798.1 811.7,797.5 814.7,796.9 817.7,796.3 820.8,795.8 823.8,795.2 826.8,794.6 829.9,794.0 832.9,793.4 835.9,792.8 838.9,792.3 842.0,791.7 845.0,791.1 848.0,790.5 851.1,789.9 854.1,789.3 857.1,788.8 860.1,788.2 863.2,787.6 866.2,787.0 869.2,786.4 872.3,785.8 875.3,785.3 878.3,784.7 881.3,784.1 884.4,783.5 887.4,782.9 890.4,782.3 893.5,781.8 896.5,781.2 899.5,780.6 902.5,780.1 905.6,779.5 908.6,778.9 911.6,778.4 914.7,777.8 917.7,777.3 920.7,776.7 923.7,776.1 926.8,775.6 929.8,775.0 932.8,774.5 935.9,773.9 938.9,773.3 941.9,772.8 944.9,772.2 948.0,771.7 951.0,771.1 954.0,770.5 957.1,770.0 960.1,769.4 963.1,768.9 966.1,768.3 969.2,767.7 972.2,767.2 975.2,766.6 978.3,766.1 981.3,765.5 984.3,765.0 987.3,764.4 990.4,763.7 993.4,762.9 996.4,762.2 999.5,761.5 1002.5,760.8 1005.5,760.0 1008.5,759.3 1011.6,758.6 1014.6,757.8 1017.6,757.1 1020.7,756.4 1023.7,755.7 1026.7,755.0 1029.7,754.3 1032.8,753.7 1035.8,753.1 1038.8,752.5 1041.9,751.9 1044.9,751.3 1047.9,750.7 1050.9,750.1 1054.0,749.5 1057.0,748.9 1060.0,748.3 1063.1,747.7 1066.1,747.1 1069.1,746.5 1072.1,746.0 1075.2,745.4 1078.2,745.0 1081.2,744.5 1084.3,744.0 1087.3,743.5 1090.3,743.0 1093.3,742.5 1096.4,742.0 1099.4,741.6 1102.4,741.1 1105.5,740.6 1108.5,740.1 1111.5,739.6 1114.5,739.1 1117.6,738.6 1120.6,738.2 1123.6,737.7 1126.7,737.2 1129.7,736.7 1132.7,736.2 1135.7,735.7 1138.8,735.2 1141.8,734.8 1144.8,734.3 1147.9,733.8 1150.9,733.4 1153.9,733.0 1156.9,732.5 1160.0,732.1 1163.0,731.7 1166.0,731.2 1169.1,730.8 1172.1,730.4 1175.1,729.9 1178.1,729.5 1181.2,729.1 1184.2,728.6" fill="none" stroke="#1E8E3E" stroke-width="1.2"/>
<polyline points="166.6,931.5 169.6,930.5 172.7,929.4 175.7,928.4 178.7,927.3 181.7,926.3 184.8,925.3 187.8,924.2 190.8,923.2 193.9,922.1 196.9,921.1 199.9,920.0 202.9,919.0 206.0,918.0 209.0,916.9 212.0,915.9 215.1,914.8 218.1,913.8 221.1,912.8 224.1,911.7 227.2,910.7 230.2,909.6 233.2,908.6 236.3,907.6 239.3,906.5 242.3,905.4 245.3,904.3 248.4,903.2 251.4,902.1 254.4,901.0 257.5,899.9 260.5,898.8 263.5,897.6 266.5,896.5 269.6,895.4 272.6,894.3 275.6,893.2 278.7,892.1 281.7,891.0 284.7,889.9 287.7,888.8 290.8,887.7 293.8,886.6 296.8,885.5 299.9,884.4 302.9,883.3 305.9,882.2 308.9,881.1 312.0,880.1 315.0,879.0 318.0,877.9 321.1,876.9 324.1,875.8 327.1,874.7 330.1,873.6 333.2,872.7 336.2,871.8 339.2,871.1 342.3,870.3 345.3,869.6 348.3,868.8 351.3,868.1 354.4,867.3 357.4,866.6 360.4,865.8 363.5,865.1 366.5,864.3 369.5,863.6 372.5,862.8 375.6,862.1 378.6,861.3 381.6,860.6 384.7,859.8 387.7,859.1 390.7,858.3 393.7,857.6 396.8,856.8 399.8,856.0 402.8,855.3 405.9,854.5 408.9,853.7 411.9,852.9 414.9,852.2 418.0,851.4 421.0,850.6 424.0,849.8 427.1,849.0 430.1,848.3 433.1,847.5 436.1,846.7 439.2,845.9 442.2,845.2 445.2,844.4 448.3,843.6 451.3,842.8 454.3,842.1 457.3,841.3 460.4,840.5 463.4,839.7 466.4,838.9 469.5,838.2 472.5,837.4 475.5,836.6 478.5,835.8 481.6,835.1 484.6,834.3 487.6,833.5 490.7,832.7 493.7,831.9 496.7,831.2 499.7,830.4 502.8,829.7 505.8,828.9 508.8,828.2 511.9,827.6 514.9,826.9 517.9,826.3 520.9,825.7 524.0,825.0 527.0,824.4 530.0,823.7 533.1,823.1 536.1,822.5 539.1,821.8 542.1,821.2 545.2,820.6 548.2,819.9 551.2,819.3 554.3,818.6 557.3,818.0 560.3,817.4 563.3,816.7 566.4,816.1 569.4,815.5 572.4,814.8 575.5,814.2 578.5,813.5 581.5,812.9 584.5,812.3 587.6,811.6 590.6,811.0 593.6,810.4 596.7,809.7 599.7,809.1 602.7,808.4 605.7,807.8 608.8,807.2 611.8,806.5 614.8,805.8 617.9,805.1 620.9,804.4 623.9,803.7 626.9,803.0 630.0,802.3 633.0,801.6 636.0,800.9 639.1,800.2 642.1,799.5 645.1,798.8 648.1,798.1 651.2,797.4 654.2,796.7 657.2,796.0 660.3,795.3 663.3,794.6 666.3,793.9 669.3,793.2 672.4,792.5 675.4,791.8 678.4,791.1 681.5,790.4 684.5,789.7 687.5,789.0 690.5,788.3 693.6,787.6 696.6,786.9 699.6,786.2 702.7,785.5 705.7,784.8 708.7,784.1 711.7,783.4 714.8,782.7 717.8,782.0 720.8,781.3 723.9,780.6 726.9,779.9 729.9,779.2 732.9,778.6 736.0,777.9 739.0,777.2 742.0,776.5 745.1,775.9 748.1,775.3 751.1,774.6 754.1,774.0 757.2,773.4 760.2,772.8 763.2,772.2 766.3,771.6 769.3,770.9 772.3,770.3 775.3,769.7 778.4,769.1 781.4,768.5 784.4,767.9 787.5,767.3 790.5,766.6 793.5,766.0 796.5,765.4 799.6,764.8 802.6,764.2 805.6,763.6 808.7,762.9 811.7,762.3 814.7,761.7 817.7,761.1 820.8,760.5 823.8,759.9 826.8,759.3 829.9,758.6 832.9,758.0 835.9,757.4 838.9,756.8 842.0,756.2 845.0,755.6 848.0,754.9 851.1,754.3 854.1,753.7 857.1,753.1 860.1,752.5 863.2,751.9 866.2,751.3 869.2,750.8 872.3,750.2 875.3,749.6 878.3,749.0 881.3,748.4 884.4,747.8 887.4,747.2 890.4,746.6 893.5,746.0 896.5,745.4 899.5,744.8 902.5,744.2 905.6,743.6 908.6,743.0 911.6,742.4 914.7,741.8 917.7,741.2 920.7,740.7 923.7,740.1 926.8,739.5 929.8,738.9 932.8,738.3 935.9,737.7 938.9,737.1 941.9,736.5 944.9,735.9 948.0,735.3 951.0,734.7 954.0,734.1 957.1,733.5 960.1,732.9 963.1,732.4 966.1,731.9 969.2,731.4 972.2,730.9 975.2,730.4 978.3,729.9 981.3,729.4 984.3,728.9 987.3,728.4 990.4,727.9 993.4,727.4 996.4,726.9 999.5,726.4 1002.5,725.9 1005.5,725.4 1008.5,724.9 1011.6,724.4 1014.6,723.9 1017.6,723.4 1020.7,722.9 1023.7,722.4 1026.7,721.9 1029.7,721.4 1032.8,720.9 1035.8,720.4 1038.8,719.9 1041.9,719.4 1044.9,718.9 1047.9,718.4 1050.9,717.9 1054.0,717.4 1057.0,716.9 1060.0,716.4 1063.1,715.9 1066.1,715.4 1069.1,715.0 1072.1,714.5 1075.2,714.0 1078.2,713.5 1081.2,713.0 1084.3,712.5 1087.3,712.0 1090.3,711.5 1093.3,711.0 1096.4,710.5 1099.4,710.0 1102.4,709.5 1105.5,709.0 1108.5,708.5 1111.5,708.0 1114.5,707.5 1117.6,707.0 1120.6,706.5 1123.6,706.0 1126.7,705.5 1129.7,705.0 1132.7,704.5 1135.7,704.0 1138.8,703.5 1141.8,703.0 1144.8,702.5 1147.9,702.0 1150.9,701.6 1153.9,701.1 1156.9,700.6 1160.0,700.1 1163.0,699.7 1166.0,699.2 1169.1,698.7 1172.1,698.2 1175.1,697.8 1178.1,697.3 1181.2,696.8 1184.2,696.4" fill="none" stroke="#000" stroke-width="4.0" stroke-dasharray="5.0 5.2" stroke-dashoffset="0"/>
<polyline points="1184.0,699.9 1184.0,933.0" fill="none" stroke="#000" stroke-width="2.6" stroke-dasharray="4 4" stroke-dashoffset="0"/>
<line x1="166.6" x2="1184.2" y1="933.0" y2="933.0" stroke="#0a4a28" stroke-width="1.4" stroke-dasharray="6 4"/>
<text transform="translate(91.46,940.4) scale(1.3669,1)" font-family='"Liberation Sans", sans-serif' font-size="19.0" fill="#1c1c1c">0,00</text>
<text transform="translate(75.88,915.6) scale(1.3904,1)" font-family='"Liberation Sans", sans-serif' font-size="19.0" fill="#1c1c1c">20,00</text>
<text transform="translate(76.61,889.4) scale(1.3748,1)" font-family='"Liberation Sans", sans-serif' font-size="19.0" fill="#1c1c1c">40,00</text>
<text transform="translate(75.88,864.7) scale(1.3904,1)" font-family='"Liberation Sans", sans-serif' font-size="19.0" fill="#1c1c1c">60,00</text>
<text transform="translate(76.08,838.1) scale(1.3861,1)" font-family='"Liberation Sans", sans-serif' font-size="19.0" fill="#1c1c1c">80,00</text>
<text transform="translate(62.35,812.4) scale(1.3707,1)" font-family='"Liberation Sans", sans-serif' font-size="19.0" fill="#1c1c1c">100,00</text>
<text transform="translate(62.35,787.1) scale(1.3707,1)" font-family='"Liberation Sans", sans-serif' font-size="19.0" fill="#1c1c1c">120,00</text>
<text transform="translate(62.35,761.4) scale(1.3707,1)" font-family='"Liberation Sans", sans-serif' font-size="19.0" fill="#1c1c1c">140,00</text>
<text transform="translate(62.35,736.6) scale(1.3707,1)" font-family='"Liberation Sans", sans-serif' font-size="19.0" fill="#1c1c1c">160,00</text>
<text transform="translate(62.35,710.8) scale(1.3707,1)" font-family='"Liberation Sans", sans-serif' font-size="19.0" fill="#1c1c1c">180,00</text>
<text transform="translate(63.01,685.4) scale(1.3592,1)" font-family='"Liberation Sans", sans-serif' font-size="19.0" fill="#1c1c1c">200,00</text>
<text transform="translate(176.6,949.7) rotate(-90) scale(0.75,1)" text-anchor="end" font-family='"Liberation Sans", sans-serif' font-size="26.5" fill="#1c1c1c">1-Apr</text>
<text transform="translate(219.0,949.7) rotate(-90) scale(0.75,1)" text-anchor="end" font-family='"Liberation Sans", sans-serif' font-size="26.5" fill="#1c1c1c">8-Apr</text>
<text transform="translate(261.4,949.7) rotate(-90) scale(0.75,1)" text-anchor="end" font-family='"Liberation Sans", sans-serif' font-size="26.5" fill="#1c1c1c">15-Apr</text>
<text transform="translate(303.8,949.7) rotate(-90) scale(0.75,1)" text-anchor="end" font-family='"Liberation Sans", sans-serif' font-size="26.5" fill="#1c1c1c">22-Apr</text>
<text transform="translate(346.2,949.7) rotate(-90) scale(0.75,1)" text-anchor="end" font-family='"Liberation Sans", sans-serif' font-size="26.5" fill="#1c1c1c">29-Apr</text>
<text transform="translate(388.6,949.7) rotate(-90) scale(0.755,1)" text-anchor="end" font-family='"Liberation Sans", sans-serif' font-size="26.5" fill="#1c1c1c">6-May</text>
<text transform="translate(431.0,949.7) rotate(-90) scale(0.755,1)" text-anchor="end" font-family='"Liberation Sans", sans-serif' font-size="26.5" fill="#1c1c1c">13-May</text>
<text transform="translate(473.4,949.7) rotate(-90) scale(0.755,1)" text-anchor="end" font-family='"Liberation Sans", sans-serif' font-size="26.5" fill="#1c1c1c">20-May</text>
<text transform="translate(515.8,949.7) rotate(-90) scale(0.755,1)" text-anchor="end" font-family='"Liberation Sans", sans-serif' font-size="26.5" fill="#1c1c1c">27-May</text>
<text transform="translate(558.2,949.7) rotate(-90) scale(0.69,1)" text-anchor="end" font-family='"Liberation Sans", sans-serif' font-size="26.5" fill="#1c1c1c">3-Jun</text>
<text transform="translate(600.6,949.7) rotate(-90) scale(0.69,1)" text-anchor="end" font-family='"Liberation Sans", sans-serif' font-size="26.5" fill="#1c1c1c">10-Jun</text>
<text transform="translate(643.0,949.7) rotate(-90) scale(0.69,1)" text-anchor="end" font-family='"Liberation Sans", sans-serif' font-size="26.5" fill="#1c1c1c">17-Jun</text>
<text transform="translate(685.4,949.7) rotate(-90) scale(0.69,1)" text-anchor="end" font-family='"Liberation Sans", sans-serif' font-size="26.5" fill="#1c1c1c">24-Jun</text>
<text transform="translate(727.8,949.7) rotate(-90) scale(0.7,1)" text-anchor="end" font-family='"Liberation Sans", sans-serif' font-size="26.5" fill="#1c1c1c">1-Jul</text>
<text transform="translate(770.2,949.7) rotate(-90) scale(0.7,1)" text-anchor="end" font-family='"Liberation Sans", sans-serif' font-size="26.5" fill="#1c1c1c">8-Jul</text>
<text transform="translate(812.6,949.7) rotate(-90) scale(0.7,1)" text-anchor="end" font-family='"Liberation Sans", sans-serif' font-size="26.5" fill="#1c1c1c">15-Jul</text>
<text transform="translate(855.0,949.7) rotate(-90) scale(0.7,1)" text-anchor="end" font-family='"Liberation Sans", sans-serif' font-size="26.5" fill="#1c1c1c">22-Jul</text>
<text transform="translate(897.4,949.7) rotate(-90) scale(0.7,1)" text-anchor="end" font-family='"Liberation Sans", sans-serif' font-size="26.5" fill="#1c1c1c">29-Jul</text>
<text transform="translate(939.8,949.7) rotate(-90) scale(0.73,1)" text-anchor="end" font-family='"Liberation Sans", sans-serif' font-size="26.5" fill="#1c1c1c">5-Aug</text>
<text transform="translate(982.2,949.7) rotate(-90) scale(0.73,1)" text-anchor="end" font-family='"Liberation Sans", sans-serif' font-size="26.5" fill="#1c1c1c">12-Aug</text>
<text transform="translate(1024.6,949.7) rotate(-90) scale(0.73,1)" text-anchor="end" font-family='"Liberation Sans", sans-serif' font-size="26.5" fill="#1c1c1c">19-Aug</text>
<text transform="translate(1067.0,949.7) rotate(-90) scale(0.73,1)" text-anchor="end" font-family='"Liberation Sans", sans-serif' font-size="26.5" fill="#1c1c1c">26-Aug</text>
<text transform="translate(1109.4,949.7) rotate(-90) scale(0.705,1)" text-anchor="end" font-family='"Liberation Sans", sans-serif' font-size="26.5" fill="#1c1c1c">2-Sep</text>
<text transform="translate(1151.8,949.7) rotate(-90) scale(0.705,1)" text-anchor="end" font-family='"Liberation Sans", sans-serif' font-size="26.5" fill="#1c1c1c">9-Sep</text>
<text transform="translate(1194.2,949.7) rotate(-90) scale(0.705,1)" text-anchor="end" font-family='"Liberation Sans", sans-serif' font-size="26.5" fill="#1c1c1c">16-Sep</text>
<text transform="translate(42.9,874.8) rotate(-90) scale(0.70,1)" font-family='"Liberation Sans", sans-serif' font-weight="bold" font-size="28.5" fill="#111">billions</text>
<text transform="translate(42.9,787.0) rotate(-90) scale(0.70,1)" font-family='"Liberation Sans", sans-serif' font-weight="bold" font-size="28.5" fill="#111">m</text>
<text transform="translate(32.4,767.2) rotate(-90) scale(0.74,1)" font-family='"Liberation Sans", sans-serif' font-weight="bold" font-size="18.5" fill="#111">3</text>
<text transform="translate(454.49,668.9) scale(1.4562,1)" font-family='"Liberation Sans", sans-serif' font-weight="bold" font-size="31.5" fill="#111">Water</text>
<text transform="translate(592.68,668.9) scale(1.4028,1)" font-family='"Liberation Sans", sans-serif' font-weight="bold" font-size="31.5" fill="#111">volume</text>
<rect x="143.2" y="1039.3" width="21.6" height="16.2" fill="#44C2F6" stroke="#0B2C6B" stroke-width="1.3"/>
<text transform="translate(173.40,1054.4) scale(1.3467,1)" font-family='"Liberation Sans", sans-serif' font-size="25.2" fill="#1c1c1c">Pulse</text>
<text transform="translate(269.26,1054.4) scale(1.4329,1)" font-family='"Liberation Sans", sans-serif' font-size="25.2" fill="#1c1c1c">flushing</text>
<text transform="translate(401.84,1054.4) scale(1.5056,1)" font-family='"Liberation Sans", sans-serif' font-size="25.2" fill="#1c1c1c">method</text>
<rect x="658.5" y="1040.2" width="16" height="14.4" fill="#A0EC8C"/>
<rect x="654" y="1037" width="5.0" height="3.8" fill="#050805"/>
<rect x="664.6" y="1037" width="6.0" height="3.8" fill="#050805"/>
<rect x="674" y="1037" width="5.0" height="3.8" fill="#050805"/>
<rect x="654" y="1045" width="5.0" height="3.6" fill="#050805"/>
<rect x="674" y="1045" width="5.0" height="3.6" fill="#050805"/>
<rect x="654" y="1052" width="5.0" height="5.7" fill="#050805"/>
<rect x="664.6" y="1054" width="6.0" height="3.7" fill="#050805"/>
<rect x="674" y="1052" width="5.0" height="5.7" fill="#050805"/>
<text transform="translate(685.60,1054.4) scale(1.3952,1)" font-family='"Liberation Sans", sans-serif' font-size="25.2" fill="#1c1c1c">Flushing</text>
<text transform="translate(829.15,1054.4) scale(1.4982,1)" font-family='"Liberation Sans", sans-serif' font-size="25.2" fill="#1c1c1c">method</text>
<text transform="translate(963.80,1054.4) scale(1.4704,1)" font-family='"Liberation Sans", sans-serif' font-size="25.2" fill="#1c1c1c">in</text>
<text transform="translate(1002.05,1054.4) scale(1.3859,1)" font-family='"Liberation Sans", sans-serif' font-size="25.2" fill="#1c1c1c">2019</text>
<text transform="translate(571.30,1130.5) scale(0.9960,1)" font-family='"Liberation Serif", serif' font-size="38" fill="#111">b)</text>
</svg>
</body></html>
